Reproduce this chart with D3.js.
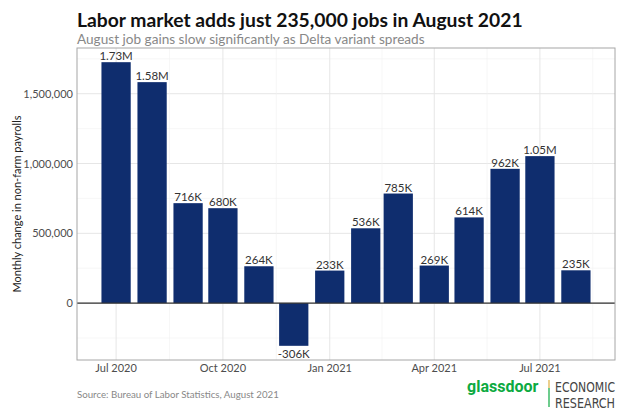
<!DOCTYPE html>
<html>
<head>
<meta charset="utf-8">
<script src="https://cdn.jsdelivr.net/npm/d3@7"></script>
<style>
  body { margin: 0; background: #fff; }
  svg { display: block; font-family: Lato, "Open Sans", sans-serif; }
</style>
</head>
<body>
<svg id="chart" width="630" height="420"></svg>
<script>
// ---- data ----
const months = ["2020-07","2020-08","2020-09","2020-10","2020-11","2020-12","2021-01","2021-02","2021-03","2021-04","2021-05","2021-06","2021-07","2021-08"];
const jobsK = [1726, 1583, 716, 680, 264, -306, 233, 536, 785, 269, 614, 962, 1053, 235];
const xTickLabels = ["Jul 2020","Oct 2020","Jan 2021","Apr 2021","Jul 2021"];
const xTickDates = ["2020-07","2020-10","2021-01","2021-04","2021-07"];
const yTicks = [0, 500000, 1000000, 1500000];
const yMinor = [-250000, 250000, 750000, 1250000, 1750000];

const parse = d3.timeParse("%Y-%m");
const data = months.map((m, i) => ({ date: parse(m), value: jobsK[i] * 1000, k: jobsK[i] }));
const fmtLabel = k => Math.abs(k) >= 1000 ? (k / 1000).toFixed(2) + "M" : k + "K";

const svg = d3.select("#chart");
const P = { left: 77, right: 615, top: 48, bottom: 360 };

// bar width: 0.9 * resolution (28 days)
const barDays = 0.9 * 28;
const dayMs = 864e5;
const dMin = d3.min(data, d => +d.date) - barDays / 2 * dayMs;
const dMax = d3.max(data, d => +d.date) + barDays / 2 * dayMs;
const dPad = (dMax - dMin) * 0.05;
const x = d3.scaleTime().domain([new Date(dMin - dPad), new Date(dMax + dPad)]).range([P.left, P.right]);

const vMin = d3.min(data, d => d.value), vMax = d3.max(data, d => d.value);
const vPad = (vMax - vMin) * 0.05;
const y = d3.scaleLinear().domain([vMin - vPad, vMax + vPad]).range([P.bottom, P.top]);

// grid
const g = svg.append("g");
yMinor.forEach(v => g.append("line").attr("x1", P.left).attr("x2", P.right).attr("y1", y(v)).attr("y2", y(v)).attr("stroke", "#f2f2f2").attr("stroke-width", 0.6));
yTicks.forEach(v => g.append("line").attr("x1", P.left).attr("x2", P.right).attr("y1", y(v)).attr("y2", y(v)).attr("stroke", "#e6e6e6").attr("stroke-width", 1));
const tickDates = xTickDates.map(parse);
const minorDates = [];
for (let i = -1; i < tickDates.length; i++) {
  const a = i < 0 ? new Date(2 * tickDates[0] - tickDates[1]) : tickDates[i];
  const b = i + 1 < tickDates.length ? tickDates[i + 1] : new Date(2 * tickDates[i] - tickDates[i - 1]);
  minorDates.push(new Date((+a + +b) / 2));
}
minorDates.filter(d => x(d) > P.left && x(d) < P.right).forEach(d => g.append("line").attr("x1", x(d)).attr("x2", x(d)).attr("y1", P.top).attr("y2", P.bottom).attr("stroke", "#f2f2f2").attr("stroke-width", 0.6));
tickDates.forEach(d => g.append("line").attr("x1", x(d)).attr("x2", x(d)).attr("y1", P.top).attr("y2", P.bottom).attr("stroke", "#e6e6e6").attr("stroke-width", 1));

// bars
const bw = x(new Date(+data[0].date + barDays * dayMs)) - x(data[0].date);
svg.append("g").selectAll("rect").data(data).join("rect")
  .attr("x", d => x(d.date) - bw / 2)
  .attr("width", bw)
  .attr("y", d => y(Math.max(0, d.value)))
  .attr("height", d => Math.abs(y(d.value) - y(0)))
  .attr("fill", "#0f2d6e");

// zero line
svg.append("line").attr("x1", P.left).attr("x2", P.right).attr("y1", y(0)).attr("y2", y(0)).attr("stroke", "#333").attr("stroke-width", 1.2);

// bar labels
svg.append("g").selectAll("text").data(data).join("text")
  .attr("x", d => x(d.date))
  .attr("y", d => d.value >= 0 ? y(d.value) - 2 : y(d.value) + 12)
  .attr("text-anchor", "middle")
  .attr("font-size", 11.5)
  .attr("fill", "#333")
  .text(d => fmtLabel(d.k));

// panel border
svg.append("rect").attr("x", P.left).attr("y", P.top).attr("width", P.right - P.left).attr("height", P.bottom - P.top)
  .attr("fill", "none").attr("stroke", "#a6a6a6").attr("stroke-width", 1);

// axes labels
const fmtY = d3.format(",");
svg.append("g").selectAll("text").data(yTicks).join("text")
  .attr("x", P.left - 4).attr("y", d => y(d) + 4)
  .attr("text-anchor", "end").attr("font-size", 11).attr("fill", "#4d4d4d")
  .text(d => fmtY(d));
svg.append("g").selectAll("text").data(xTickDates).join("text")
  .attr("x", (d) => x(parse(d))).attr("y", P.bottom + 12)
  .attr("text-anchor", "middle").attr("font-size", 11).attr("fill", "#4d4d4d")
  .text((d, i) => xTickLabels[i]);

svg.append("text")
  .attr("transform", `translate(21,${(P.top + P.bottom) / 2}) rotate(-90)`)
  .attr("text-anchor", "middle").attr("font-size", 11).attr("fill", "#222")
  .text("Monthly change in non-farm payrolls");

// titles
svg.append("text").attr("x", P.left).attr("y", 27).attr("font-size", 19.3).attr("font-weight", "bold").attr("fill", "#111")
  .text("Labor market adds just 235,000 jobs in August 2021");
svg.append("text").attr("x", P.left).attr("y", 44).attr("font-size", 13.6).attr("fill", "#888")
  .text("August job gains slow significantly as Delta variant spreads");

// caption
svg.append("text").attr("x", P.left).attr("y", 398).attr("font-size", 9.7).attr("fill", "#888")
  .text("Source: Bureau of Labor Statistics, August 2021");

// logo
svg.append("text").attr("x", 467).attr("y", 392).attr("font-size", 16).attr("font-weight", "bold").attr("fill", "#0caa41")
  .attr("font-family", "Roboto, sans-serif").text("glassdoor");
svg.append("line").attr("x1", 549).attr("x2", 549).attr("y1", 380).attr("y2", 388).attr("stroke", "#e0b040").attr("stroke-width", 1.2);
svg.append("line").attr("x1", 549).attr("x2", 549).attr("y1", 388).attr("y2", 407).attr("stroke", "#0caa41").attr("stroke-width", 1.2);
svg.append("text").attr("x", 555).attr("y", 392).attr("font-size", 14).attr("fill", "#444")
  .attr("font-family", "'DejaVu Sans Condensed', 'Liberation Sans Narrow', sans-serif")
  .attr("textLength", 60).attr("lengthAdjust", "spacingAndGlyphs").text("ECONOMIC");
svg.append("text").attr("x", 555).attr("y", 408).attr("font-size", 14).attr("fill", "#444")
  .attr("font-family", "'DejaVu Sans Condensed', 'Liberation Sans Narrow', sans-serif")
  .attr("textLength", 60).attr("lengthAdjust", "spacingAndGlyphs").text("RESEARCH");
</script>
</body>
</html>
